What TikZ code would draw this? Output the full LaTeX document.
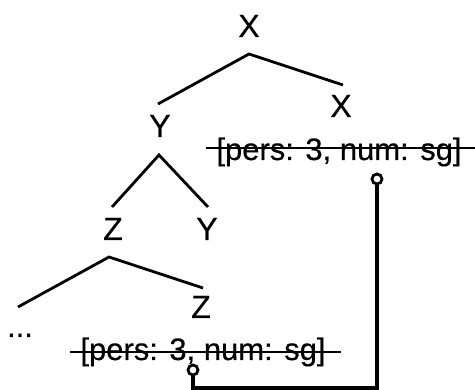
\documentclass[tikz,border=0pt]{standalone}
\usepackage{fontspec}
\setmainfont{Liberation Sans}
\newfontfamily\treefont{Liberation Sans}[FakeBold=0.4]
\tikzset{
  lbl/.style={anchor=base,inner sep=0pt,font=\treefont\fontsize{32}{32}\selectfont},
  feat/.style={anchor=base,inner sep=0pt,font=\treefont\fontsize{31}{31}\selectfont},
  branch/.style={black,line width=2.8pt},
  strike/.style={black,line width=2.4pt},
  agr/.style={circle,draw,line width=2.8pt,minimum size=10pt,inner sep=0pt},
  wire/.style={black,line width=3.8pt},
}

\begin{document}
\begin{tikzpicture}[x=1pt,y=-1pt]
    \useasboundingbox (0,0) rectangle (475,390);

    \node[lbl] (xtop) at (249,37) {X};
    \node[lbl] (xbar) at (341,117) {X};
    \node[feat] (fx) at (339,160) {[pers: 3, num: sg]};
    \node[lbl] (ytop) at (160,137) {Y};
    \node[lbl] (zleft) at (113,240) {Z};
    \node[lbl] (yright) at (207,240) {Y};
    \node[lbl] (zbar) at (201,318) {Z};
    \node[feat] (dots) at (20,337) {...};
    \node[feat] (fz) at (203,360) {[pers: 3, num: sg]};
    \node[agr] (agrx) at (377,179) {};
    \node[agr] (agrz) at (193,370) {};

    \coordinate (xsplit) at (249,54);
    \coordinate (xl) at (158,104);
    \coordinate (xr) at (343,85);
    \coordinate (ysplit) at (159,155);
    \coordinate (yl) at (112,207);
    \coordinate (yr) at (208,207);
    \coordinate (zsplit) at (109,257);
    \coordinate (zl) at (18,307);
    \coordinate (zr) at (203,288);
    \coordinate (bend) at (377,388);

    \draw [branch] (xl) -- (xsplit) -- (xr);
    \draw [branch] (yl) -- (ysplit) -- (yr);
    \draw [branch] (zl) -- (zsplit) -- (zr);

    \draw [strike] ([xshift=-10pt,yshift=12pt]fx.base west) -- ([xshift=17pt,yshift=12pt]fx.base east);
    \draw [strike] ([xshift=-10pt,yshift=8pt]fz.base west) -- ([xshift=15pt,yshift=8pt]fz.base east);

    \draw [wire] (agrx) -- (bend) -| (agrz);
  \end{tikzpicture}
\end{document}
